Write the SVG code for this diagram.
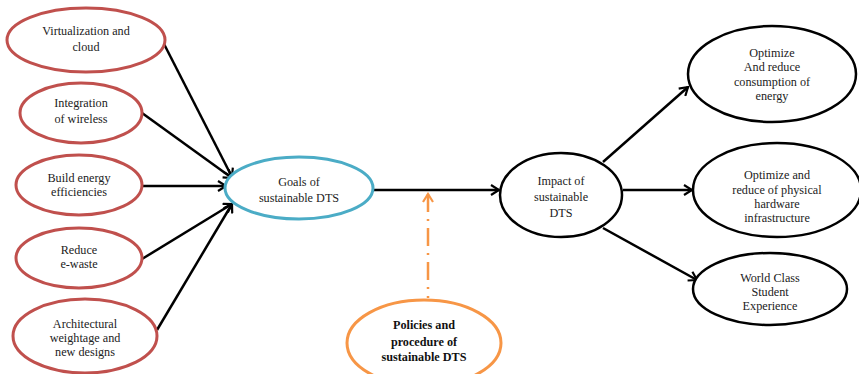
<svg xmlns="http://www.w3.org/2000/svg" width="859" height="374" viewBox="0 0 859 374" font-family="'Liberation Serif','Times New Roman',serif">
<style>
  text{font-family:"Liberation Serif","Times New Roman",serif;font-size:12.2px;fill:#222;text-anchor:middle}
  .b{font-weight:bold;fill:#111}
  .red{fill:#fff;stroke:#c0504d;stroke-width:3}
  .blue{fill:#fff;stroke:#4bacc6;stroke-width:3}
  .org{fill:#fff;stroke:#f79646;stroke-width:3}
  .blk{fill:#fff;stroke:#000;stroke-width:2.5}
  .c{stroke:#000;stroke-width:2.5;fill:none;marker-end:url(#ah)}
  .d{stroke:#f79646;stroke-width:2.5;fill:none;stroke-dasharray:18 7 2 7;marker-start:url(#ao)}
</style>
<defs>
  <marker id="ah" viewBox="0 0 12 12" refX="10" refY="6" markerWidth="12" markerHeight="12" markerUnits="userSpaceOnUse" orient="auto">
    <polyline points="2,1 10,6 2,11" fill="none" stroke="#000" stroke-width="2.2"/>
  </marker>
  <marker id="ao" viewBox="0 0 12 12" refX="10" refY="6" markerWidth="12" markerHeight="12" markerUnits="userSpaceOnUse" orient="auto-start-reverse">
    <polyline points="2,1 10,6 2,11" fill="none" stroke="#f79646" stroke-width="2.2"/>
  </marker>
</defs>
<rect width="859" height="374" fill="#fff"/>
<g id="connectors">
  <line class="c" x1="163" y1="42" x2="232" y2="177"/>
  <line class="c" x1="142" y1="113" x2="232" y2="178"/>
  <line class="c" x1="142" y1="186" x2="226" y2="186"/>
  <line class="c" x1="142" y1="259" x2="232" y2="204"/>
  <line class="c" x1="157" y1="330" x2="232" y2="204"/>
  <line class="c" x1="373" y1="190" x2="499" y2="190"/>
  <line class="c" x1="603" y1="162" x2="688" y2="87"/>
  <line class="c" x1="623" y1="190" x2="692" y2="190"/>
  <line class="c" x1="603" y1="228" x2="697" y2="280"/>
  <line class="d" x1="428" y1="194" x2="428" y2="298"/>
</g>
<g id="n1"><ellipse class="red" cx="86" cy="40" rx="79" ry="32"/><text x="86" y="35">Virtualization and</text><text x="86" y="51">cloud</text></g>
<g id="n2"><ellipse class="red" cx="81" cy="113" rx="61" ry="30"/><text x="81" y="107">Integration</text><text x="81" y="123">of wireless</text></g>
<g id="n3"><ellipse class="red" cx="79" cy="185" rx="63" ry="30"/><text x="79" y="182">Build energy</text><text x="79" y="196">efficiencies</text></g>
<g id="n4"><ellipse class="red" cx="79" cy="258" rx="63" ry="30"/><text x="79" y="254">Reduce</text><text x="79" y="268">e-waste</text></g>
<g id="n5"><ellipse class="red" cx="85" cy="336" rx="72" ry="37"/><text x="85" y="328">Architectural</text><text x="85" y="342">weightage and</text><text x="85" y="356">new designs</text></g>
<g id="goals"><ellipse class="blue" cx="299" cy="188" rx="74" ry="31"/><text x="299" y="186">Goals of</text><text x="299" y="202">sustainable DTS</text></g>
<g id="impact"><ellipse class="blk" cx="561" cy="195" rx="61" ry="42"/><text x="561" y="185">Impact of</text><text x="561" y="201">sustainable</text><text x="561" y="217">DTS</text></g>
<g id="r1"><ellipse class="blk" cx="772" cy="74" rx="84" ry="48"/><text x="772" y="57">Optimize</text><text x="772" y="71">And reduce</text><text x="772" y="86">consumption of</text><text x="772" y="100">energy</text></g>
<g id="r2"><ellipse class="blk" cx="777" cy="190" rx="84" ry="47"/><text x="777" y="179">Optimize and</text><text x="777" y="193.5">reduce of physical</text><text x="777" y="207.5">hardware</text><text x="777" y="221.5">infrastructure</text></g>
<g id="r3"><ellipse class="blk" cx="770" cy="289" rx="77" ry="36"/><text x="770" y="282">World Class</text><text x="770" y="296">Student</text><text x="770" y="310">Experience</text></g>
<g id="policies"><ellipse class="org" cx="424" cy="343" rx="77" ry="43"/><text class="b" x="424" y="329">Policies and</text><text class="b" x="424" y="346">procedure of</text><text class="b" x="424" y="361">sustainable DTS</text></g>
</svg>
